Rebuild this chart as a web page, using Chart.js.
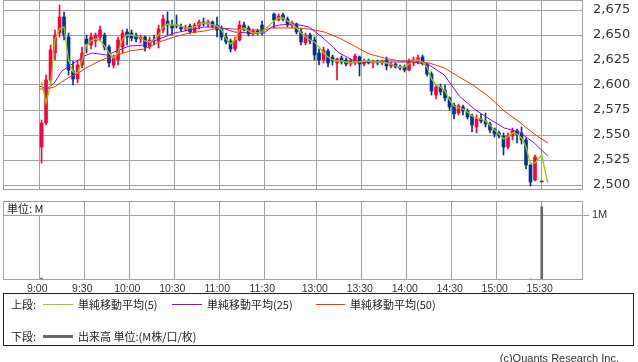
<!DOCTYPE html>
<html>
<head>
<meta charset="utf-8">
<script src="https://cdn.jsdelivr.net/npm/chart.js@4.4.0/dist/chart.umd.min.js"></script>
<style>
body{margin:0;background:#fff;width:638px;height:362px;overflow:hidden;position:relative;font-family:"Noto Sans CJK JP",sans-serif;color:#222}
canvas{position:absolute;left:0}
#price{top:0}
#vol{top:196px}
.t{position:absolute;font-size:11px;line-height:14px;white-space:nowrap}
.ln{position:absolute;height:1px}
#unit{left:4px;top:202px;height:13px;line-height:13px;padding:0 3px;background:#fff}
#legend{position:absolute;left:3px;top:293px;width:629px;height:51px;border:1px solid #222}
#copy{right:19px;top:351px;font-family:"Liberation Sans",sans-serif;color:#333}
</style>
</head>
<body>
<canvas id="price" width="638" height="196"></canvas>
<canvas id="vol" width="638" height="104"></canvas>
<div class="t" id="unit">単位: M</div>
<div id="legend"></div>
<div class="t" style="left:11px;top:297px">上段:</div>
<div class="ln" style="left:43px;top:304px;width:30px;background:#99cc00"></div>
<div class="t" style="left:78px;top:297px">単純移動平均(5)</div>
<div class="ln" style="left:172px;top:304px;width:30px;background:#9900ff"></div>
<div class="t" style="left:207px;top:297px">単純移動平均(25)</div>
<div class="ln" style="left:316px;top:304px;width:29px;background:#ff3300"></div>
<div class="t" style="left:350px;top:297px">単純移動平均(50)</div>
<div class="t" style="left:11px;top:329px">下段:</div>
<div class="ln" style="left:43px;top:335px;width:30px;height:3px;background:#666"></div>
<div class="t" style="left:78px;top:329px">出来高 単位:(M株/口/枚)</div>
<div class="t" id="copy">(c)Quants Research Inc.</div>
<script>
// 3-minute bars, morning then afternoon session
const times = [
  '9:00','9:03','9:06','9:09','9:12','9:15','9:18','9:21','9:24','9:27',
  '9:30','9:33','9:36','9:39','9:42','9:45','9:48','9:51','9:54','9:57',
  '10:00','10:03','10:06','10:09','10:12','10:15','10:18','10:21','10:24','10:27',
  '10:30','10:33','10:36','10:39','10:42','10:45','10:48','10:51','10:54','10:57',
  '11:00','11:03','11:06','11:09','11:12','11:15','11:18','11:21','11:24','11:27',
  '12:30','12:33','12:36','12:39','12:42','12:45','12:48','12:51','12:54','12:57',
  '13:00','13:03','13:06','13:09','13:12','13:15','13:18','13:21','13:24','13:27',
  '13:30','13:33','13:36','13:39','13:42','13:45','13:48','13:51','13:54','13:57',
  '14:00','14:03','14:06','14:09','14:12','14:15','14:18','14:21','14:24','14:27',
  '14:30','14:33','14:36','14:39','14:42','14:45','14:48','14:51','14:54','14:57',
  '15:00','15:03','15:06','15:09','15:12','15:15','15:18','15:21','15:24'
];
const open = [
  2538,2562,2605,2632,2652,2668,2648,2614,2606,2620, 2646,2640,2644,2648,2650,2638,2620,2625,2638,2653,
  2652,2650,2646,2648,2638,2645,2644,2655,2664,2660, 2660,2658,2656,2659,2653,2659,2663,2661,2663,2660,
  2656,2648,2644,2636,2645,2660,2657,2651,2654,2660,
  2671,2665,2670,2666,2660,2661,2653,2642,2650,2645, 2632,2625,2634,2628,2622,2627,2625,2621,2622,2628,
  2621,2624,2622,2623,2622,2625,2619,2621,2618,2618, 2615,2622,2623,2628,2621,2611,2590,2598,2595,2587,
  2580,2572,2578,2574,2569,2558,2566,2564,2561,2556, 2552,2549,2538,2549,2554,2552,2545,2520,2505
];
const high = [
  2565,2610,2640,2655,2680,2673,2652,2624,2625,2638, 2650,2652,2652,2659,2652,2640,2630,2648,2655,2656,
  2655,2652,2650,2649,2648,2650,2660,2670,2673,2665, 2670,2661,2660,2661,2662,2665,2667,2665,2664,2668,
  2659,2652,2646,2648,2664,2663,2659,2656,2656,2664,
  2672,2671,2672,2668,2664,2662,2657,2652,2652,2648, 2636,2638,2636,2630,2627,2629,2627,2626,2631,2629,
  2626,2626,2625,2625,2625,2628,2623,2622,2620,2620, 2626,2628,2630,2630,2622,2613,2600,2601,2600,2588,
  2582,2581,2580,2576,2571,2570,2571,2572,2563,2557, 2554,2552,2552,2557,2556,2558,2547,2521,2530
];
const low = [
  2522,2560,2600,2625,2648,2645,2610,2600,2602,2617, 2632,2636,2638,2644,2635,2618,2617,2620,2632,2640,
  2644,2643,2642,2634,2636,2640,2637,2652,2650,2650, 2657,2654,2654,2651,2652,2656,2659,2658,2657,2648,
  2645,2641,2633,2634,2644,2654,2649,2649,2650,2650,
  2657,2664,2664,2658,2657,2651,2640,2640,2641,2625, 2620,2622,2618,2620,2605,2621,2619,2619,2620,2609,
  2619,2621,2617,2620,2620,2615,2617,2617,2615,2613, 2614,2619,2621,2620,2609,2590,2586,2590,2584,2575,
  2566,2570,2570,2566,2553,2552,2562,2558,2552,2548, 2547,2530,2536,2545,2542,2541,2516,2499,2504
];
const close = [
  2562,2605,2635,2650,2668,2650,2615,2606,2620,2632, 2641,2648,2650,2655,2638,2622,2628,2645,2652,2648,
  2647,2646,2648,2638,2645,2644,2656,2666,2660,2657, 2659,2656,2658,2653,2660,2663,2661,2663,2659,2655,
  2648,2643,2636,2645,2660,2657,2651,2654,2652,2653,
  2665,2669,2666,2660,2662,2653,2643,2650,2644,2630, 2625,2635,2622,2624,2626,2623,2621,2624,2629,2621,
  2624,2622,2623,2622,2624,2619,2621,2618,2617,2615, 2624,2625,2627,2622,2611,2594,2598,2593,2587,2578,
  2571,2579,2574,2568,2560,2566,2564,2561,2555,2551, 2549,2538,2549,2554,2550,2545,2520,2503,2528
];
// closing auction print
const auctionTime = '15:30';
const auctionPrice = 2503;

// 5-bar average, one value per bar, then the tail after the close
const sma5 = [
  2603,2582,2600,2646,2656,2658,2625,2613,2612,2625, 2640,2644,2646,2645,2639,2632,2627,2632,2646,2650,
  2650,2649,2647,2644,2643,2645,2650,2658,2661,2660, 2660,2659,2657,2657,2658,2661,2662,2662,2660,2659,
  2655,2646,2641,2645,2655,2657,2654,2652,2652,2653,
  2664,2667,2667,2664,2661,2657,2652,2648,2645,2643, 2638,2632,2628,2625,2624,2624,2623,2622,2623,2623,
  2624,2624,2623,2623,2623,2622,2621,2619,2618,2618, 2621,2624,2625,2623,2618,2606,2600,2598,2594,2585,
  2579,2577,2576,2573,2569,2567,2566,2564,2560,2555, 2551,2546,2548,2552,2551,2547,2538,2521,2522
];
const sma5TailTimes = ['15:30', '15:34'];
const sma5Tail = [2530, 2502];

const maTimes = ['9:00','9:05','9:10','9:15','9:20','9:25','9:30','9:35','9:40','9:45','9:50',
  '10:00','10:10','10:20','10:30','10:40','10:50','11:00','11:10','11:20','11:30',
  '12:30','12:35','12:45','12:55','13:05','13:15','13:25','13:35','13:45','13:55',
  '14:05','14:15','14:25','14:35','14:45','14:55','15:05','15:15','15:25','15:34'];
const sma25 = [2599,2596,2602,2614,2619,2624,2629,2632,2631,2630,2633,
  2639,2640,2646,2652,2655,2658,2658,2653,2652,2652,
  2658,2660,2661,2658,2646,2632,2624,2623,2623,2623,
  2623,2620,2610,2589,2576,2566,2557,2553,2542,2529];
const sma50 = [2596,2596,2598,2603,2608,2611,2616,2620,2624,2627,2629,
  2634,2636,2643,2648,2652,2654,2657,2656,2655,2655,
  2657,2657,2657,2656,2653,2647,2639,2631,2627,2624,
  2624,2622,2617,2608,2599,2588,2574,2563,2551,2542];

const volTimes = ['9:00', '15:21', '15:30'];
const volume = [0.03, 0.015, 1.13];   // M shares

const priceTicks = [2500, 2525, 2550, 2575, 2600, 2625, 2650, 2675];
const timeTicks = ['9:00','9:30','10:00','10:30','11:00','11:30','13:00','13:30','14:00','14:30','15:00','15:30'];

const UP = '#ff003c', DOWN = '#003399', GRID = '#a0a0a0';
const X_MIN = -24.2, X_MAX = 362.5;
const NARROW = '"Liberation Sans Narrow", "Liberation Sans", sans-serif';

// minutes from 9:00, lunch break squeezed to 5 units
function toUnits(t) {
  const p = t.split(':');
  const m = (+p[0]) * 60 + (+p[1]);
  return m >= 750 ? 155 + m - 750 : m - 540;
}
function barX(t) {
  return t === auctionTime ? toUnits(t) : toUnits(t) + 1.5;
}

const frame = {
  id: 'frame',
  afterDraw(c) {
    const a = c.chartArea, ctx = c.ctx;
    ctx.save();
    ctx.strokeStyle = GRID;
    ctx.lineWidth = 1;
    ctx.strokeRect(Math.round(a.left) + 0.5, Math.round(a.top) + 0.5,
      Math.round(a.right - a.left) - 1, Math.round(a.bottom - a.top) - 1);
    ctx.restore();
  }
};

const wicks = times.map((t, i) => ({x: barX(t), y: [low[i], high[i]]}));
const bodies = times.map((t, i) => ({x: barX(t), y: [open[i], close[i]]}));
const colors = times.map((t, i) => close[i] >= open[i] ? UP : DOWN);
bodies.push({x: barX(auctionTime), y: [auctionPrice, auctionPrice]});
colors.push('#333');

const sma5Pts = times.map((t, i) => ({x: barX(t), y: sma5[i]}))
  .concat(sma5TailTimes.map((t, i) => ({x: toUnits(t), y: sma5Tail[i]})));

function xAxis(showLabels) {
  return {
    type: 'linear', min: X_MIN, max: X_MAX, offset: false,
    afterBuildTicks: s => { s.ticks = timeTicks.map(t => ({value: toUnits(t)})); },
    afterFit: s => { s.height = showLabels ? 20 : 0; s.paddingLeft = 0; s.paddingRight = 0; },
    grid: {color: GRID, drawTicks: false, offset: false},
    border: {display: false},
    ticks: {
      display: showLabels, autoSkip: false, maxRotation: 0, padding: 3, labelOffset: -2,
      color: '#333', font: {family: NARROW, size: 10.5},
      callback: (v, i) => timeTicks[i]
    }
  };
}

new Chart(document.getElementById('price'), {
  type: 'bar',
  data: {
    datasets: [
      {type: 'line', data: sma5Pts, borderColor: '#99cc00', borderWidth: 1.3, pointRadius: 0, order: 0},
      {type: 'line', data: maTimes.map((t, i) => ({x: toUnits(t), y: sma25[i]})), borderColor: '#9900ff', borderWidth: 1, pointRadius: 0, order: 0},
      {type: 'line', data: maTimes.map((t, i) => ({x: toUnits(t), y: sma50[i]})), borderColor: '#ff3300', borderWidth: 1, pointRadius: 0, order: 0},
      {data: bodies, backgroundColor: colors, barThickness: 3, minBarLength: 1, grouped: false, order: 1},
      {data: wicks, backgroundColor: colors, barThickness: 1, grouped: false, order: 2}
    ]
  },
  options: {
    responsive: false, animation: false, devicePixelRatio: 1,
    layout: {padding: {left: 3, right: 0, top: 0, bottom: 6}},
    plugins: {legend: {display: false}, tooltip: {enabled: false}},
    scales: {
      x: xAxis(false),
      y: {
        position: 'right', min: 2495, max: 2685,
        afterBuildTicks: s => { s.ticks = priceTicks.map(v => ({value: v})); },
        afterFit: s => { s.width = 55; s.paddingTop = 0; s.paddingBottom = 0; },
        grid: {color: GRID, drawTicks: false},
        border: {display: false},
        ticks: {padding: 10, color: '#333', font: {family: 'DejaVu Sans', size: 13},
          callback: v => v.toLocaleString('en-US')}
      }
    }
  },
  plugins: [frame]
});

new Chart(document.getElementById('vol'), {
  type: 'bar',
  data: {
    datasets: [{
      data: volTimes.map((t, i) => ({x: barX(t), y: volume[i]})),
      backgroundColor: '#666', barThickness: 2, grouped: false
    }]
  },
  options: {
    responsive: false, animation: false, devicePixelRatio: 1,
    layout: {padding: {left: 3, right: 0, top: 5, bottom: 0}},
    plugins: {legend: {display: false}, tooltip: {enabled: false}},
    scales: {
      x: xAxis(true),
      y: {
        position: 'right', min: 0, max: 1.218,
        afterBuildTicks: s => { s.ticks = [{value: 1}]; },
        afterFit: s => { s.width = 55; s.paddingTop = 0; s.paddingBottom = 0; },
        grid: {color: GRID, drawTicks: true, tickLength: 6},
        border: {display: false},
        ticks: {padding: 3, color: '#333', font: {family: NARROW, size: 11}, callback: () => '1M'}
      }
    }
  },
  plugins: [frame]
});
</script>
</body>
</html>
